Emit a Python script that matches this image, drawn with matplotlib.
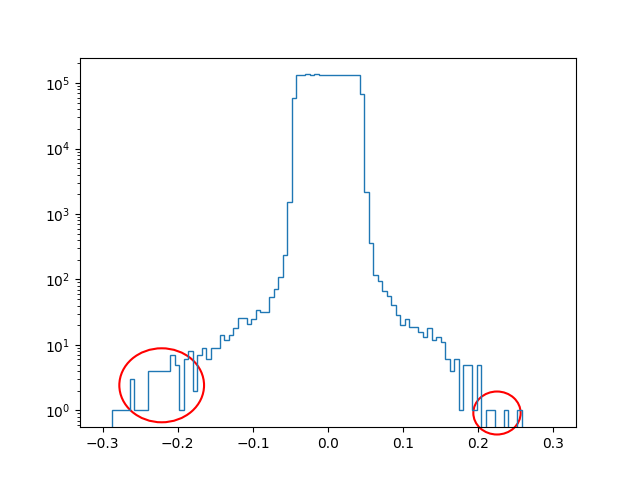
import matplotlib
matplotlib.use('Agg')

import matplotlib.pyplot as plt
from matplotlib.patches import Ellipse
import numpy as np

# 100 bins between -0.3 and 0.3, counts
x_min, x_max, n_bins = -0.3, 0.3, 100
counts = [
    0, 0, 1, 1, 1, 1, 3, 1, 1, 1,
    4, 4, 4, 4, 4, 7, 5, 1, 6, 8,
    2, 7, 9, 6, 9, 9, 14, 12, 14, 18,
    26, 26, 21, 25, 34, 32, 32, 54, 71, 109,
    238, 1520, 58900, 132000, 132000, 136000, 132000, 136000, 132000, 132000,
    132000, 135000, 132000, 132000, 132000, 132000, 132000, 67800, 2160, 355,
    118, 94, 67, 55, 41, 29, 20, 25, 19, 19,
    16, 13, 18, 12, 13, 11, 6, 4, 6, 1,
    5, 5, 1, 5, 0, 1, 1, 0, 0, 1,
    0, 0, 1, 0, 0, 0, 0, 0, 0, 0,
]

edges = np.linspace(x_min, x_max, n_bins + 1)
centers = (edges[:-1] + edges[1:]) / 2

fig, ax = plt.subplots(figsize=(6.4, 4.8), dpi=100)
ax.hist(centers, bins=edges, weights=counts, histtype='step', log=True)

# highlight the sparse tails
ax.add_patch(Ellipse((0.1647, 0.1134), 0.1708, 0.2002, transform=ax.transAxes,
                     fill=False, edgecolor='red', linewidth=1.5, clip_on=False))
ax.add_patch(Ellipse((0.8407, 0.0384), 0.0954, 0.1163, transform=ax.transAxes,
                     fill=False, edgecolor='red', linewidth=1.5, clip_on=False))

fig.savefig("out.png")
